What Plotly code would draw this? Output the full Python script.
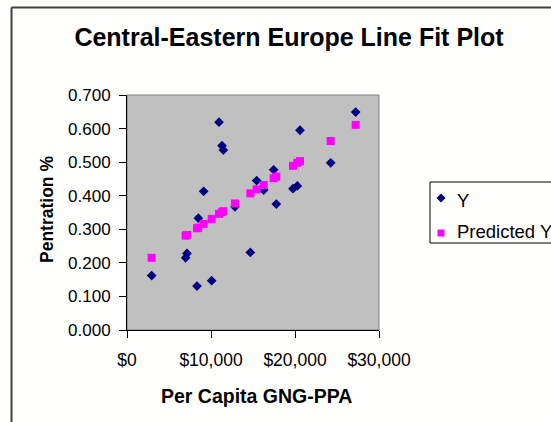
import plotly.graph_objects as go

# Per capita GNP (PPP, USD) for each country
gnp_ppa = [2936, 10952, 11309, 11468, 20594, 27220, 24245, 17459, 15436, 16269,
           19761, 20276, 17777, 9126, 12856, 8492, 7142, 6984, 14682, 10079, 8333]
# Observed penetration
y_obs = [0.162, 0.619, 0.549, 0.536, 0.595, 0.649, 0.498, 0.477, 0.445, 0.417,
         0.421, 0.429, 0.375, 0.413, 0.367, 0.333, 0.228, 0.215, 0.231, 0.147, 0.131]
# Fitted penetration from the regression line
y_pred = [0.215, 0.346, 0.351, 0.354, 0.503, 0.611, 0.563, 0.452, 0.419, 0.432,
          0.489, 0.498, 0.457, 0.316, 0.377, 0.305, 0.283, 0.281, 0.407, 0.331, 0.303]

x_ticks = [0, 10000, 20000, 30000]
x_labels = ["$0", "$10,000", "$20,000", "$30,000"]
y_ticks = [0.0, 0.1, 0.2, 0.3, 0.4, 0.5, 0.6, 0.7]

FONT = "Liberation Sans, Arial, sans-serif"
W, H = 551, 422
L, R, T, B = 127, 172, 95, 92
PW, PH = W - L - R, H - T - B


def px(xp):
    return (xp - L) / PW


def py(yp):
    return (H - B - yp) / PH


fig = go.Figure()
fig.add_trace(go.Scatter(
    x=gnp_ppa, y=y_obs, mode="markers", name="Y",
    marker=dict(symbol="diamond", size=7.5, color="#000080", line=dict(width=0)),
    showlegend=False, cliponaxis=False))
fig.add_trace(go.Scatter(
    x=gnp_ppa, y=y_pred, mode="markers", name="Predicted Y",
    marker=dict(symbol="square", size=8, color="#FF00FF", line=dict(width=0)),
    showlegend=False, cliponaxis=False))

axis_common = dict(showgrid=False, zeroline=False, showline=True, linecolor="black",
                   linewidth=1, ticks="outside", ticklen=7, tickcolor="black", tickwidth=1)

fig.update_layout(
    width=W, height=H,
    margin=dict(l=L, r=R, t=T, b=B, autoexpand=False),
    paper_bgcolor="#FFFFFE", plot_bgcolor="#C0C0C0",
    font=dict(family=FONT, color="black", size=17),
    title=dict(text="Central-Eastern Europe Line Fit Plot", x=289 / W, y=1 - 37 / H,
               xanchor="center", yanchor="middle", xref="container", yref="container",
               font=dict(family=FONT, size=25, weight="bold", color="black")),
    xaxis=dict(range=[0, 30000], tickvals=x_ticks, ticktext=x_labels,
               ticklabelstandoff=7, tickfont=dict(size=17.5), **axis_common),
    yaxis=dict(range=[0, 0.7], tickvals=y_ticks, tickformat=".3f",
               ticklabelstandoff=5, tickfont=dict(size=17), **axis_common),
)


def diamond_path(cx, cy, r):
    pts = [(cx - r, cy), (cx, cy - r), (cx + r, cy), (cx, cy + r)]
    return "M " + " L ".join(f"{px(a):.5f},{py(b):.5f}" for a, b in pts) + " Z"


shapes = [
    # chart outer frame: left and top edges
    dict(type="line", xref="paper", yref="paper", x0=px(11.5), x1=px(11.5),
         y0=py(H), y1=py(7.5), line=dict(color="#404040", width=2)),
    dict(type="line", xref="paper", yref="paper", x0=px(11.5), x1=px(W),
         y0=py(7.5), y1=py(7.5), line=dict(color="#404040", width=2)),
    # plot area frame (top and right in gray)
    dict(type="rect", xref="paper", yref="paper", x0=0, x1=1, y0=0, y1=1,
         line=dict(color="#808080", width=1), layer="below"),
    # legend box
    dict(type="rect", xref="paper", yref="paper", x0=px(430), x1=px(W + 5),
         y0=py(243), y1=py(182), line=dict(color="black", width=1)),
    # legend symbols
    dict(type="path", xref="paper", yref="paper", path=diamond_path(441, 198, 4.5),
         fillcolor="#000080", line=dict(width=0)),
    dict(type="rect", xref="paper", yref="paper", x0=px(437.5), x1=px(444.5),
         y0=py(236.5), y1=py(229.5), fillcolor="#FF00FF", line=dict(width=0)),
]
fig.update_layout(shapes=shapes)

annotations = [
    dict(text="Y", x=px(455), y=py(200), xanchor="left", yanchor="middle"),
    dict(text="Predicted Y", x=px(455), y=py(231), xanchor="left", yanchor="middle"),
    dict(text="Per Capita GNG-PPA", x=px(256), y=py(396), xanchor="center", yanchor="middle",
         font=dict(family=FONT, size=19.5, weight="bold", color="black")),
    dict(text="Pentration %", x=px(47), y=py(210), xanchor="center", yanchor="middle",
         textangle=-90, font=dict(family=FONT, size=17.5, weight="bold", color="black")),
]
for a in annotations:
    a.setdefault("font", dict(family=FONT, size=18.5, color="black"))
    a.update(xref="paper", yref="paper", showarrow=False)
fig.update_layout(annotations=annotations)

fig.write_html("out.html")
